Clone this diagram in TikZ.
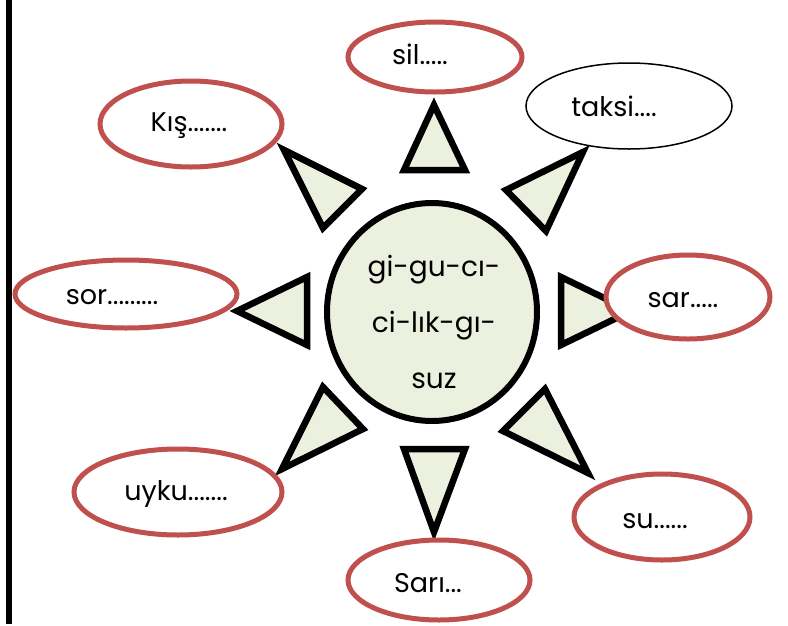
\documentclass[tikz,border=0pt]{standalone}
\usepackage{fontspec}
\setmainfont{Poppins}
\usetikzlibrary{shapes.geometric}
\definecolor{ered}{HTML}{C0504D}
\definecolor{lgreen}{HTML}{EBF1DE}
\begin{document}
\begin{tikzpicture}[x=1pt,y=-1pt,
  bubble/.style={ellipse,draw=ered,line width=5pt,fill=white,inner sep=0pt},
  plainbubble/.style={ellipse,draw=black,line width=1.5pt,fill=white,inner sep=0pt},
  word/.style={inner sep=0pt,font=\fontsize{27}{32}\selectfont},
  ray/.style={draw=black,line width=6.5pt,fill=lgreen,line join=miter}]
\useasboundingbox (0,0) rectangle (788,625);
\draw[line width=6pt] (9,0) -- (9,624);
% rays
\filldraw[ray] (404,170) -- (465,170) -- (434,105) -- cycle;
\filldraw[ray] (404,449) -- (465,449) -- (434,532) -- cycle;
\filldraw[ray] (307,277) -- (307,345) -- (237,311) -- cycle;
\filldraw[ray] (561,277) -- (561,345) -- (631,311) -- cycle;
\filldraw[ray] (284,150) -- (362,189) -- (323,228) -- cycle;
\filldraw[ray] (583,152) -- (506,190) -- (546,231) -- cycle;
\filldraw[ray] (282,469) -- (323,387) -- (363,429) -- cycle;
\filldraw[ray] (588,473) -- (545,389) -- (503,431) -- cycle;
% centre
\node[ellipse,draw=black,line width=6pt,fill=lgreen,inner sep=0pt,
  minimum width=210pt,minimum height=218pt] (c) at (432,312) {};
\node[align=center,inner sep=0pt,font=\fontsize{28}{56}\selectfont] (ct) at (434,322)
  {gi-gu-cı-\\ci-lık-gı-\\suz};
% bubbles
\node[bubble,minimum width=174pt,minimum height=70pt] (e1) at (435,57) {};
\node[plainbubble,minimum width=206pt,minimum height=86pt] (e2) at (629,106) {};
\node[bubble,minimum width=182pt,minimum height=86pt] (e3) at (191,124) {};
\node[bubble,minimum width=222pt,minimum height=68pt] (e4) at (126,294) {};
\node[bubble,minimum width=164pt,minimum height=84pt] (e5) at (688,297) {};
\node[bubble,minimum width=208pt,minimum height=86pt] (e6) at (178,492) {};
\node[bubble,minimum width=176pt,minimum height=86pt] (e7) at (662,517) {};
\node[bubble,minimum width=182pt,minimum height=80pt] (e8) at (439,580) {};
% words
\node[word] (t1) at (420,54) {sil.....};
\node[word] (t2) at (614,106) {taksi....};
\node[word] (t3) at (189,126) {Kış.......};
\node[word] (t4) at (112,297) {sor.........};
\node[word] (t5) at (683,300) {sar.....};
\node[word] (t6) at (176,494) {uyku.......};
\node[word] (t7) at (655,521) {su......};
\node[word] (t8) at (428,583) {Sarı...};
\end{tikzpicture}
\end{document}
